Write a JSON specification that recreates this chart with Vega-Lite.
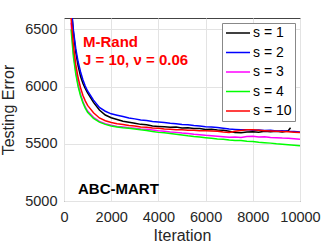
{
  "$schema": "https://vega.github.io/schema/vega-lite/v6.json",
  "width": 236,
  "height": 183,
  "autosize": {"type": "none"},
  "padding": {"left": 64, "top": 18, "right": 32, "bottom": 48},
  "background": "white",
  "config": {
    "font": "Liberation Sans",
    "view": {"stroke": "#444444", "strokeWidth": 1},
    "axis": {
      "domain": false,
      "ticks": false,
      "grid": true,
      "gridColor": "#e3e3e3",
      "labelColor": "#262626",
      "titleColor": "#262626",
      "labelFontSize": 14.5,
      "titleFontSize": 16,
      "titleFontWeight": "normal",
      "labelFont": "Liberation Sans",
      "titleFont": "Liberation Sans",
      "format": "d"
    }
  },
  "layer": [
    {
      "data": {
        "values": [
          {"s": "s = 1", "i": 300, "v": 6700}, {"s": "s = 1", "i": 400, "v": 6470}, {"s": "s = 1", "i": 500, "v": 6300}, {"s": "s = 1", "i": 600, "v": 6180}, {"s": "s = 1", "i": 700, "v": 6090}, {"s": "s = 1", "i": 800, "v": 6030}, {"s": "s = 1", "i": 900, "v": 5985}, {"s": "s = 1", "i": 1000, "v": 5945}, {"s": "s = 1", "i": 1250, "v": 5862}, {"s": "s = 1", "i": 1500, "v": 5795}, {"s": "s = 1", "i": 1750, "v": 5752}, {"s": "s = 1", "i": 2000, "v": 5728}, {"s": "s = 1", "i": 2250, "v": 5712}, {"s": "s = 1", "i": 2500, "v": 5697}, {"s": "s = 1", "i": 2750, "v": 5688}, {"s": "s = 1", "i": 3000, "v": 5680}, {"s": "s = 1", "i": 3250, "v": 5670}, {"s": "s = 1", "i": 3500, "v": 5666}, {"s": "s = 1", "i": 3750, "v": 5655}, {"s": "s = 1", "i": 4000, "v": 5652}, {"s": "s = 1", "i": 4250, "v": 5650}, {"s": "s = 1", "i": 4500, "v": 5644}, {"s": "s = 1", "i": 4750, "v": 5646}, {"s": "s = 1", "i": 5000, "v": 5638}, {"s": "s = 1", "i": 5250, "v": 5640}, {"s": "s = 1", "i": 5500, "v": 5633}, {"s": "s = 1", "i": 5750, "v": 5634}, {"s": "s = 1", "i": 6000, "v": 5626}, {"s": "s = 1", "i": 6250, "v": 5628}, {"s": "s = 1", "i": 6500, "v": 5620}, {"s": "s = 1", "i": 6750, "v": 5618}, {"s": "s = 1", "i": 7000, "v": 5610}, {"s": "s = 1", "i": 7250, "v": 5598}, {"s": "s = 1", "i": 7500, "v": 5596}, {"s": "s = 1", "i": 7750, "v": 5604}, {"s": "s = 1", "i": 8000, "v": 5606}, {"s": "s = 1", "i": 8250, "v": 5602}, {"s": "s = 1", "i": 8500, "v": 5610}, {"s": "s = 1", "i": 8750, "v": 5606}, {"s": "s = 1", "i": 9000, "v": 5609}, {"s": "s = 1", "i": 9250, "v": 5604}, {"s": "s = 1", "i": 9500, "v": 5614}, {"s": "s = 1", "i": 9600, "v": 5640},
          {"s": "s = 2", "i": 300, "v": 6720}, {"s": "s = 2", "i": 400, "v": 6490}, {"s": "s = 2", "i": 500, "v": 6330}, {"s": "s = 2", "i": 600, "v": 6215}, {"s": "s = 2", "i": 700, "v": 6130}, {"s": "s = 2", "i": 800, "v": 6060}, {"s": "s = 2", "i": 900, "v": 6005}, {"s": "s = 2", "i": 1000, "v": 5962}, {"s": "s = 2", "i": 1250, "v": 5882}, {"s": "s = 2", "i": 1500, "v": 5818}, {"s": "s = 2", "i": 1750, "v": 5785}, {"s": "s = 2", "i": 2000, "v": 5762}, {"s": "s = 2", "i": 2250, "v": 5750}, {"s": "s = 2", "i": 2500, "v": 5738}, {"s": "s = 2", "i": 2750, "v": 5725}, {"s": "s = 2", "i": 3000, "v": 5718}, {"s": "s = 2", "i": 3250, "v": 5708}, {"s": "s = 2", "i": 3500, "v": 5704}, {"s": "s = 2", "i": 3750, "v": 5695}, {"s": "s = 2", "i": 4000, "v": 5690}, {"s": "s = 2", "i": 4250, "v": 5686}, {"s": "s = 2", "i": 4500, "v": 5680}, {"s": "s = 2", "i": 4750, "v": 5676}, {"s": "s = 2", "i": 5000, "v": 5668}, {"s": "s = 2", "i": 5250, "v": 5666}, {"s": "s = 2", "i": 5500, "v": 5660}, {"s": "s = 2", "i": 5750, "v": 5656}, {"s": "s = 2", "i": 6000, "v": 5650}, {"s": "s = 2", "i": 6250, "v": 5646}, {"s": "s = 2", "i": 6500, "v": 5642}, {"s": "s = 2", "i": 6750, "v": 5636}, {"s": "s = 2", "i": 7000, "v": 5630}, {"s": "s = 2", "i": 7250, "v": 5626}, {"s": "s = 2", "i": 7500, "v": 5622}, {"s": "s = 2", "i": 7750, "v": 5624}, {"s": "s = 2", "i": 8000, "v": 5618}, {"s": "s = 2", "i": 8250, "v": 5620}, {"s": "s = 2", "i": 8500, "v": 5616}, {"s": "s = 2", "i": 8750, "v": 5618}, {"s": "s = 2", "i": 9000, "v": 5612}, {"s": "s = 2", "i": 9250, "v": 5614}, {"s": "s = 2", "i": 9500, "v": 5610}, {"s": "s = 2", "i": 9750, "v": 5608}, {"s": "s = 2", "i": 10000, "v": 5604},
          {"s": "s = 3", "i": 300, "v": 6560}, {"s": "s = 3", "i": 400, "v": 6290}, {"s": "s = 3", "i": 500, "v": 6130}, {"s": "s = 3", "i": 600, "v": 6015}, {"s": "s = 3", "i": 700, "v": 5935}, {"s": "s = 3", "i": 800, "v": 5870}, {"s": "s = 3", "i": 900, "v": 5822}, {"s": "s = 3", "i": 1000, "v": 5786}, {"s": "s = 3", "i": 1250, "v": 5732}, {"s": "s = 3", "i": 1500, "v": 5696}, {"s": "s = 3", "i": 1750, "v": 5676}, {"s": "s = 3", "i": 2000, "v": 5662}, {"s": "s = 3", "i": 2250, "v": 5652}, {"s": "s = 3", "i": 2500, "v": 5646}, {"s": "s = 3", "i": 2750, "v": 5640}, {"s": "s = 3", "i": 3000, "v": 5636}, {"s": "s = 3", "i": 3250, "v": 5630}, {"s": "s = 3", "i": 3500, "v": 5627}, {"s": "s = 3", "i": 3750, "v": 5620}, {"s": "s = 3", "i": 4000, "v": 5614}, {"s": "s = 3", "i": 4250, "v": 5610}, {"s": "s = 3", "i": 4500, "v": 5604}, {"s": "s = 3", "i": 4750, "v": 5600}, {"s": "s = 3", "i": 5000, "v": 5594}, {"s": "s = 3", "i": 5250, "v": 5590}, {"s": "s = 3", "i": 5500, "v": 5584}, {"s": "s = 3", "i": 5750, "v": 5580}, {"s": "s = 3", "i": 6000, "v": 5574}, {"s": "s = 3", "i": 6250, "v": 5570}, {"s": "s = 3", "i": 6500, "v": 5566}, {"s": "s = 3", "i": 6750, "v": 5562}, {"s": "s = 3", "i": 7000, "v": 5558}, {"s": "s = 3", "i": 7250, "v": 5560}, {"s": "s = 3", "i": 7500, "v": 5556}, {"s": "s = 3", "i": 7750, "v": 5564}, {"s": "s = 3", "i": 8000, "v": 5566}, {"s": "s = 3", "i": 8250, "v": 5560}, {"s": "s = 3", "i": 8500, "v": 5562}, {"s": "s = 3", "i": 8750, "v": 5556}, {"s": "s = 3", "i": 9000, "v": 5554}, {"s": "s = 3", "i": 9250, "v": 5550}, {"s": "s = 3", "i": 9500, "v": 5548}, {"s": "s = 3", "i": 9750, "v": 5544}, {"s": "s = 3", "i": 10000, "v": 5540},
          {"s": "s = 4", "i": 300, "v": 6500}, {"s": "s = 4", "i": 400, "v": 6260}, {"s": "s = 4", "i": 500, "v": 6110}, {"s": "s = 4", "i": 600, "v": 6000}, {"s": "s = 4", "i": 700, "v": 5920}, {"s": "s = 4", "i": 800, "v": 5860}, {"s": "s = 4", "i": 900, "v": 5812}, {"s": "s = 4", "i": 1000, "v": 5776}, {"s": "s = 4", "i": 1250, "v": 5722}, {"s": "s = 4", "i": 1500, "v": 5690}, {"s": "s = 4", "i": 1750, "v": 5670}, {"s": "s = 4", "i": 2000, "v": 5656}, {"s": "s = 4", "i": 2250, "v": 5648}, {"s": "s = 4", "i": 2500, "v": 5640}, {"s": "s = 4", "i": 2750, "v": 5636}, {"s": "s = 4", "i": 3000, "v": 5630}, {"s": "s = 4", "i": 3250, "v": 5622}, {"s": "s = 4", "i": 3500, "v": 5616}, {"s": "s = 4", "i": 3750, "v": 5608}, {"s": "s = 4", "i": 4000, "v": 5600}, {"s": "s = 4", "i": 4250, "v": 5596}, {"s": "s = 4", "i": 4500, "v": 5590}, {"s": "s = 4", "i": 4750, "v": 5584}, {"s": "s = 4", "i": 5000, "v": 5578}, {"s": "s = 4", "i": 5250, "v": 5570}, {"s": "s = 4", "i": 5500, "v": 5564}, {"s": "s = 4", "i": 5750, "v": 5560}, {"s": "s = 4", "i": 6000, "v": 5554}, {"s": "s = 4", "i": 6250, "v": 5548}, {"s": "s = 4", "i": 6500, "v": 5542}, {"s": "s = 4", "i": 6750, "v": 5540}, {"s": "s = 4", "i": 7000, "v": 5534}, {"s": "s = 4", "i": 7250, "v": 5530}, {"s": "s = 4", "i": 7500, "v": 5528}, {"s": "s = 4", "i": 7750, "v": 5522}, {"s": "s = 4", "i": 8000, "v": 5520}, {"s": "s = 4", "i": 8250, "v": 5514}, {"s": "s = 4", "i": 8500, "v": 5510}, {"s": "s = 4", "i": 8750, "v": 5506}, {"s": "s = 4", "i": 9000, "v": 5500}, {"s": "s = 4", "i": 9250, "v": 5496}, {"s": "s = 4", "i": 9500, "v": 5492}, {"s": "s = 4", "i": 9750, "v": 5488}, {"s": "s = 4", "i": 10000, "v": 5482},
          {"s": "s = 10", "i": 300, "v": 6600}, {"s": "s = 10", "i": 400, "v": 6360}, {"s": "s = 10", "i": 500, "v": 6190}, {"s": "s = 10", "i": 600, "v": 6075}, {"s": "s = 10", "i": 700, "v": 5990}, {"s": "s = 10", "i": 800, "v": 5925}, {"s": "s = 10", "i": 900, "v": 5876}, {"s": "s = 10", "i": 1000, "v": 5836}, {"s": "s = 10", "i": 1250, "v": 5772}, {"s": "s = 10", "i": 1500, "v": 5726}, {"s": "s = 10", "i": 1750, "v": 5702}, {"s": "s = 10", "i": 2000, "v": 5686}, {"s": "s = 10", "i": 2250, "v": 5676}, {"s": "s = 10", "i": 2500, "v": 5668}, {"s": "s = 10", "i": 2750, "v": 5660}, {"s": "s = 10", "i": 3000, "v": 5655}, {"s": "s = 10", "i": 3250, "v": 5648}, {"s": "s = 10", "i": 3500, "v": 5645}, {"s": "s = 10", "i": 3750, "v": 5638}, {"s": "s = 10", "i": 4000, "v": 5635}, {"s": "s = 10", "i": 4250, "v": 5630}, {"s": "s = 10", "i": 4500, "v": 5628}, {"s": "s = 10", "i": 4750, "v": 5624}, {"s": "s = 10", "i": 5000, "v": 5622}, {"s": "s = 10", "i": 5250, "v": 5618}, {"s": "s = 10", "i": 5500, "v": 5618}, {"s": "s = 10", "i": 5750, "v": 5614}, {"s": "s = 10", "i": 6000, "v": 5615}, {"s": "s = 10", "i": 6250, "v": 5612}, {"s": "s = 10", "i": 6500, "v": 5610}, {"s": "s = 10", "i": 6750, "v": 5604}, {"s": "s = 10", "i": 7000, "v": 5600}, {"s": "s = 10", "i": 7250, "v": 5610}, {"s": "s = 10", "i": 7500, "v": 5616}, {"s": "s = 10", "i": 7750, "v": 5622}, {"s": "s = 10", "i": 8000, "v": 5622}, {"s": "s = 10", "i": 8250, "v": 5618}, {"s": "s = 10", "i": 8500, "v": 5615}, {"s": "s = 10", "i": 8750, "v": 5612}, {"s": "s = 10", "i": 9000, "v": 5610}, {"s": "s = 10", "i": 9250, "v": 5608}, {"s": "s = 10", "i": 9500, "v": 5605}, {"s": "s = 10", "i": 9750, "v": 5602}, {"s": "s = 10", "i": 10000, "v": 5598}
        ]
      },
      "mark": {"type": "line", "strokeWidth": 1.5, "clip": true},
      "encoding": {
        "x": {
          "field": "i", "type": "quantitative",
          "scale": {"domain": [0, 10000]},
          "axis": {"values": [0, 2000, 4000, 6000, 8000, 10000], "title": "Iteration", "labelPadding": 9, "titlePadding": 4, "labelFlush": false, "format": "d"}
        },
        "y": {
          "field": "v", "type": "quantitative",
          "scale": {"domain": [5000, 6500]},
          "axis": {"values": [5000, 5500, 6000, 6500], "title": "Testing Error", "labelPadding": 7, "titlePadding": 8, "format": "d"}
        },
        "color": {
          "field": "s", "type": "nominal",
          "scale": {"domain": ["s = 1", "s = 2", "s = 3", "s = 4", "s = 10"], "range": ["#000000", "#0000ff", "#ff00ff", "#00ff00", "#ff0000"]},
          "legend": {
            "title": null, "orient": "top-right", "offset": 5, "padding": 3, "rowPadding": 5.5, "clipHeight": 14,
            "strokeColor": "#888888", "fillColor": "white", "symbolType": "stroke", "symbolSize": 576,
            "symbolStrokeWidth": 1.5, "labelFontSize": 14, "labelOffset": 2, "labelColor": "#000000"
          }
        }
      }
    },
    {
      "data": {"values": [{"label": "M-Rand", "x": 805, "y": 6344}, {"label": "J = 10, ν = 0.06", "x": 805, "y": 6189}]},
      "mark": {"type": "text", "align": "left", "baseline": "alphabetic", "fontSize": 15, "fontWeight": "bold", "color": "#ff0000"},
      "encoding": {
        "x": {"field": "x", "type": "quantitative"},
        "y": {"field": "y", "type": "quantitative"},
        "text": {"field": "label"}
      }
    },
    {
      "data": {"values": [{"label": "ABC-MART", "x": 593, "y": 5057}]},
      "mark": {"type": "text", "align": "left", "baseline": "alphabetic", "fontSize": 15, "fontWeight": "bold", "color": "#000000"},
      "encoding": {
        "x": {"field": "x", "type": "quantitative"},
        "y": {"field": "y", "type": "quantitative"},
        "text": {"field": "label"}
      }
    }
  ]
}
